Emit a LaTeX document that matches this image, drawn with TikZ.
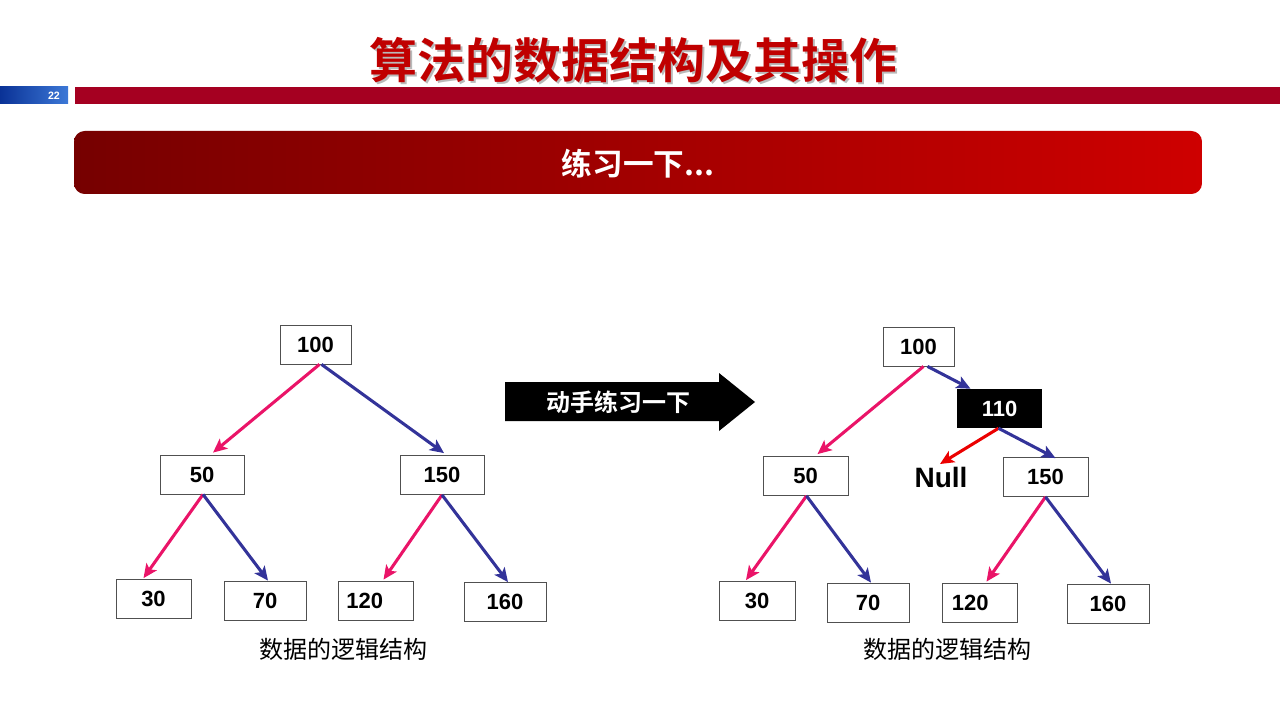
\documentclass[tikz,border=0pt]{standalone}
\usepackage{fontspec}
\setmainfont{Liberation Sans}
\newfontfamily\cjk{Noto Sans CJK SC}[BoldFont={Noto Sans CJK SC Bold}]
\usetikzlibrary{arrows.meta,calc}
\definecolor{titlered}{RGB}{192,0,0}
\definecolor{barred}{RGB}{165,0,33}
\definecolor{pinkln}{RGB}{234,20,104}
\definecolor{blueln}{RGB}{51,51,153}
\definecolor{redln}{RGB}{235,0,0}
\definecolor{boxline}{RGB}{80,80,80}
\tikzset{
  x=0.75pt, y=-0.75pt,
  tbox/.style={draw=boxline, line width=0.6pt, fill=white, minimum height=39*0.75pt, inner sep=0pt, font=\fontsize{16.5}{18}\selectfont\bfseries},
  blackbox/.style={fill=black, minimum height=39*0.75pt, inner sep=0pt, text=white, font=\fontsize{16.5}{18}\selectfont\bfseries},
  lk/.style={line width=2.3pt, -{Stealth[length=10.5pt,width=9.5pt,inset=2.5pt]}},
  pk/.style={lk, draw=pinkln},
  bl/.style={lk, draw=blueln},
  rd/.style={lk, draw=redln},
  caption/.style={font=\cjk\fontsize{18}{20}\selectfont}
}
\begin{document}
\begin{tikzpicture}
\useasboundingbox (0,0) rectangle (1280,720);
% header
\node[text=gray!55, font=\cjk\bfseries\fontsize{36}{40}\selectfont] (titlesh) at (635.5,62.5) {算法的数据结构及其操作};
\node[text=titlered, font=\cjk\bfseries\fontsize{36}{40}\selectfont] (title) at (633,60) {算法的数据结构及其操作};
\shade[left color={rgb,255:red,10;green,50;blue,150}, right color={rgb,255:red,60;green,120;blue,215}] (0,87) rectangle (68,104);
\node[text=white, font=\bfseries\fontsize{8}{9}\selectfont] (pnum) at (54,95.5) {22};
\fill[barred] (75,87) rectangle (1280,104);
% banner
\shade[rounded corners=8pt, left color={rgb,255:red,118;green,0;blue,0}, right color={rgb,255:red,206;green,0;blue,0}] (74,131) rectangle (1202,194);
\node[text=white, font=\cjk\bfseries\fontsize{23}{25}\selectfont] (banner) at (638,164) {练习一下...};
% big arrow
\fill[black] (505,382) -- (719,382) -- (719,373) -- (755,402) -- (719,431) -- (719,421) -- (505,421) -- cycle;
\node[text=white, font=\cjk\bfseries\fontsize{18}{20}\selectfont] (arrowtxt) at (618,402) {动手练习一下};
% left tree
\node[tbox, minimum width=71*0.75pt] (a100) at (315.5,344.5) {100};
\node[tbox, minimum width=84*0.75pt] (a50) at (202,474.5) {50};
\node[tbox, minimum width=84*0.75pt] (a150) at (442,475) {150};
\node[tbox, minimum width=75*0.75pt] (a30) at (153.5,599) {30};
\node[tbox, minimum width=82*0.75pt] (a70) at (265,600.5) {70};
\node[tbox, minimum width=75*0.75pt] (a120) at (375.5,600.5) {\hspace*{-16pt}120};
\node[tbox, minimum width=82*0.75pt] (a160) at (505,602) {160};
\node[caption] (acap) at (343,649) {数据的逻辑结构};
\draw[pk] ($(a100.south)+(4,0)$) -- ($(a50.north)+(11,-2)$);
\draw[bl] ($(a100.south)+(6,0)$) -- ($(a150.north)+(2,-2)$);
\draw[pk] ($(a50.south)+(1,0)$) -- ($(a30.north)+(-10,-1)$);
\draw[bl] ($(a50.south)+(1,0)$) -- ($(a70.north)+(3,0)$);
\draw[pk] ($(a150.south)+(0,0)$) -- ($(a120.north)+(8,-1)$);
\draw[bl] ($(a150.south)+(0,0)$) -- ($(a160.north)+(3,0)$);
% right tree
\node[tbox, minimum width=71*0.75pt] (b100) at (918.5,346.5) {100};
\node[blackbox, minimum width=85*0.75pt] (b110) at (999.5,408.5) {110};
\node[font=\fontsize{21}{23}\selectfont\bfseries] (null) at (941,477) {Null};
\node[tbox, minimum width=85*0.75pt] (b50) at (805.5,476) {50};
\node[tbox, minimum width=85*0.75pt] (b150) at (1045.5,477) {150};
\node[tbox, minimum width=76*0.75pt] (b30) at (757,601) {30};
\node[tbox, minimum width=82*0.75pt] (b70) at (868,602.5) {70};
\node[tbox, minimum width=75*0.75pt] (b120) at (979.5,602.5) {\hspace*{-14pt}120};
\node[tbox, minimum width=82*0.75pt] (b160) at (1108,603.5) {160};
\node[caption] (bcap) at (947,649) {数据的逻辑结构};
\draw[pk] ($(b100.south)+(5,0)$) -- ($(b50.north)+(12,-2)$);
\draw[bl] ($(b100.south)+(9,0)$) -- ($(b110.north)+(-29,0)$);
\draw[rd] ($(b110.south)+(-1,0)$) -- ($(null.north)+(-1,2)$);
\draw[bl] ($(b110.south)+(-1,0)$) -- ($(b150.north)+(10,1)$);
\draw[pk] ($(b50.south)+(1,0)$) -- ($(b30.north)+(-11,-1)$);
\draw[bl] ($(b50.south)+(1,0)$) -- ($(b70.north)+(3,0)$);
\draw[pk] ($(b150.south)+(0,0)$) -- ($(b120.north)+(7,-1)$);
\draw[bl] ($(b150.south)+(0,0)$) -- ($(b160.north)+(3,0)$);
\end{tikzpicture}
\end{document}
